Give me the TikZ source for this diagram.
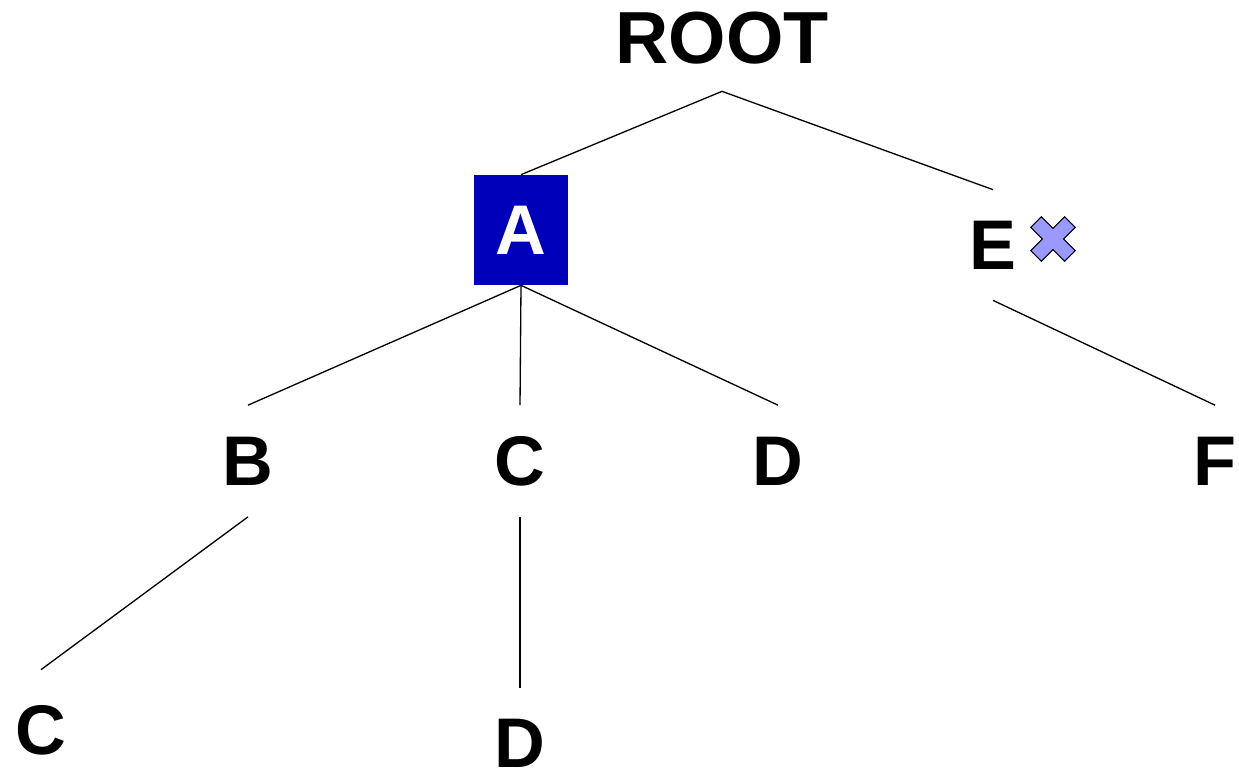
\documentclass[tikz,border=0pt]{standalone}
\usepackage{fontspec}
\setmainfont{Liberation Sans}
\usetikzlibrary{positioning}
\definecolor{cInk}{HTML}{000000}
\definecolor{cSel}{HTML}{0000BB}
\definecolor{cMark}{HTML}{9999FF}
\begin{document}
\begin{tikzpicture}[x=0.02cm,y=-0.02cm,
      lbl/.style={inner sep=0pt,minimum height=2.22cm,text=cInk,
                  font=\fontsize{40}{48}\selectfont\bfseries},
      selbox/.style={lbl,fill=cSel,text=white,minimum width=1.88cm,minimum height=2.2cm},
      edge/.style={draw=cInk,line width=0.75pt},
      xmark/.style={draw=cInk,fill=cMark,line width=0.6pt,line join=miter}]
    \useasboundingbox (0,0) rectangle (1239,772);
    % top level
    \node[lbl,minimum height=2.12cm,font=\fontsize{42}{50}\selectfont\bfseries] (root) at (722,38) {ROOT};
    \node[selbox] (a) at (521,230) {A};
    \node[lbl,minimum height=2.2cm] (e) at (993,245) {E};
    \draw[edge] (root.south) -- (a.north);
    \draw[edge] (root.south) -- (e.north);
    % marker next to E
    \begin{scope}[shift={(1053,239)},rotate=45]
      \draw[xmark] (-24,-7.5) -- (-7.5,-7.5) -- (-7.5,-24) -- (7.5,-24) -- (7.5,-7.5) -- (24,-7.5)
        -- (24,7.5) -- (7.5,7.5) -- (7.5,24) -- (-7.5,24) -- (-7.5,7.5) -- (-24,7.5) -- cycle;
    \end{scope}
    % second level
    \node[lbl] (b) at (248,461) {B};
    \node[lbl] (c) at (520,461) {C};
    \node[lbl] (d) at (778,461) {D};
    \node[lbl] (f) at (1215,461) {F};
    \draw[edge] (a.south) -- (b.north);
    \draw[edge] (a.south) -- (c.north);
    \draw[edge] (a.south) -- (d.north);
    \draw[edge] (e.south) -- (f.north);
    % third level
    \node[lbl,minimum height=2.4cm] (bc) at (41,730) {C};
    \node[lbl,minimum height=2.2cm] (cd) at (520,743) {D};
    \draw[edge] (b.south) -- (bc.north);
    \draw[edge] (c.south) -- (cd.north);
  \end{tikzpicture}
\end{document}
